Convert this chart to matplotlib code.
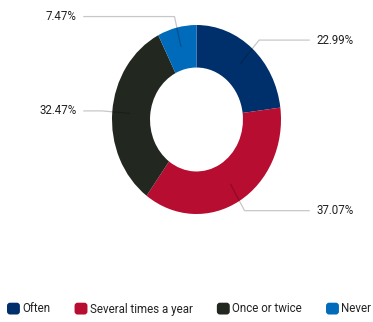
import numpy as np
import matplotlib
matplotlib.use("Agg")
import matplotlib.pyplot as plt
from matplotlib.patches import Patch, FancyBboxPatch
from matplotlib.legend_handler import HandlerPatch

plt.rcParams['font.family'] = ['Roboto', 'DejaVu Sans']

categories = ["Often", "Several times a year", "Once or twice", "Never"]
shares = [22.99, 37.07, 32.47, 7.47]
colors = ["#00306b", "#b70d30", "#22281f", "#006abb"]

W, H = 373, 322
fig = plt.figure(figsize=(W / 100, H / 100), dpi=100)

# donut is drawn slightly taller than wide
cx, cy, rx, ry = 196.5, 119.5, 84.5, 94.5
ax = fig.add_axes([(cx - rx) / W, (H - cy - ry) / H, 2 * rx / W, 2 * ry / H])
wedges, _ = ax.pie(shares, colors=colors, startangle=90, counterclock=False,
                   radius=1.0, wedgeprops=dict(width=0.45, linewidth=0))
ax.set_aspect('auto')
ax.set_xlim(-1, 1)
ax.set_ylim(-1, 1)
ax.axis('off')

# leader lines and value labels
line_kw = dict(color="black", alpha=0.22, lw=0.9, clip_on=False,
               solid_capstyle='butt')
x_end = 1.34
for w, v in zip(wedges, shares):
    mid = np.deg2rad((w.theta1 + w.theta2) / 2)
    c, s = np.cos(mid), np.sin(mid)
    r0, r1 = 0.79, 1.12
    p0 = (r0 * c, r0 * s)
    p1 = (r1 * c, r1 * s)
    side = 1 if c >= 0 else -1
    p2 = (side * x_end, p1[1])
    ax.plot([p0[0], p1[0], p2[0]], [p0[1], p1[1], p2[1]], **line_kw)
    ax.annotate(f"{v:.2f}%", xy=p2, xytext=(side * 7, 0),
                textcoords='offset pixels',
                ha='left' if side > 0 else 'right', va='center',
                fontsize=8.3, color="#222222", annotation_clip=False)


class RoundedHandler(HandlerPatch):
    def create_artists(self, legend, orig_handle, xdescent, ydescent,
                       width, height, fontsize, trans):
        p = FancyBboxPatch((-xdescent + 0.8, -ydescent + 0.8),
                           width - 1.6, height - 1.6,
                           boxstyle="round,pad=0.8,rounding_size=2.2",
                           facecolor=orig_handle.get_facecolor(),
                           edgecolor='none', transform=trans)
        return [p]


handles = [Patch(facecolor=c) for c in colors]
fig.legend(handles, categories, loc='center left',
           bbox_to_anchor=(7 / W, (H - 309) / H), ncol=4, frameon=False,
           fontsize=8.3, handlelength=1.12, handleheight=1.2,
           handletextpad=0.2, columnspacing=2.1, borderaxespad=0,
           borderpad=0, labelcolor="#222222",
           handler_map={Patch: RoundedHandler()})

fig.savefig("out.png", dpi=100)
